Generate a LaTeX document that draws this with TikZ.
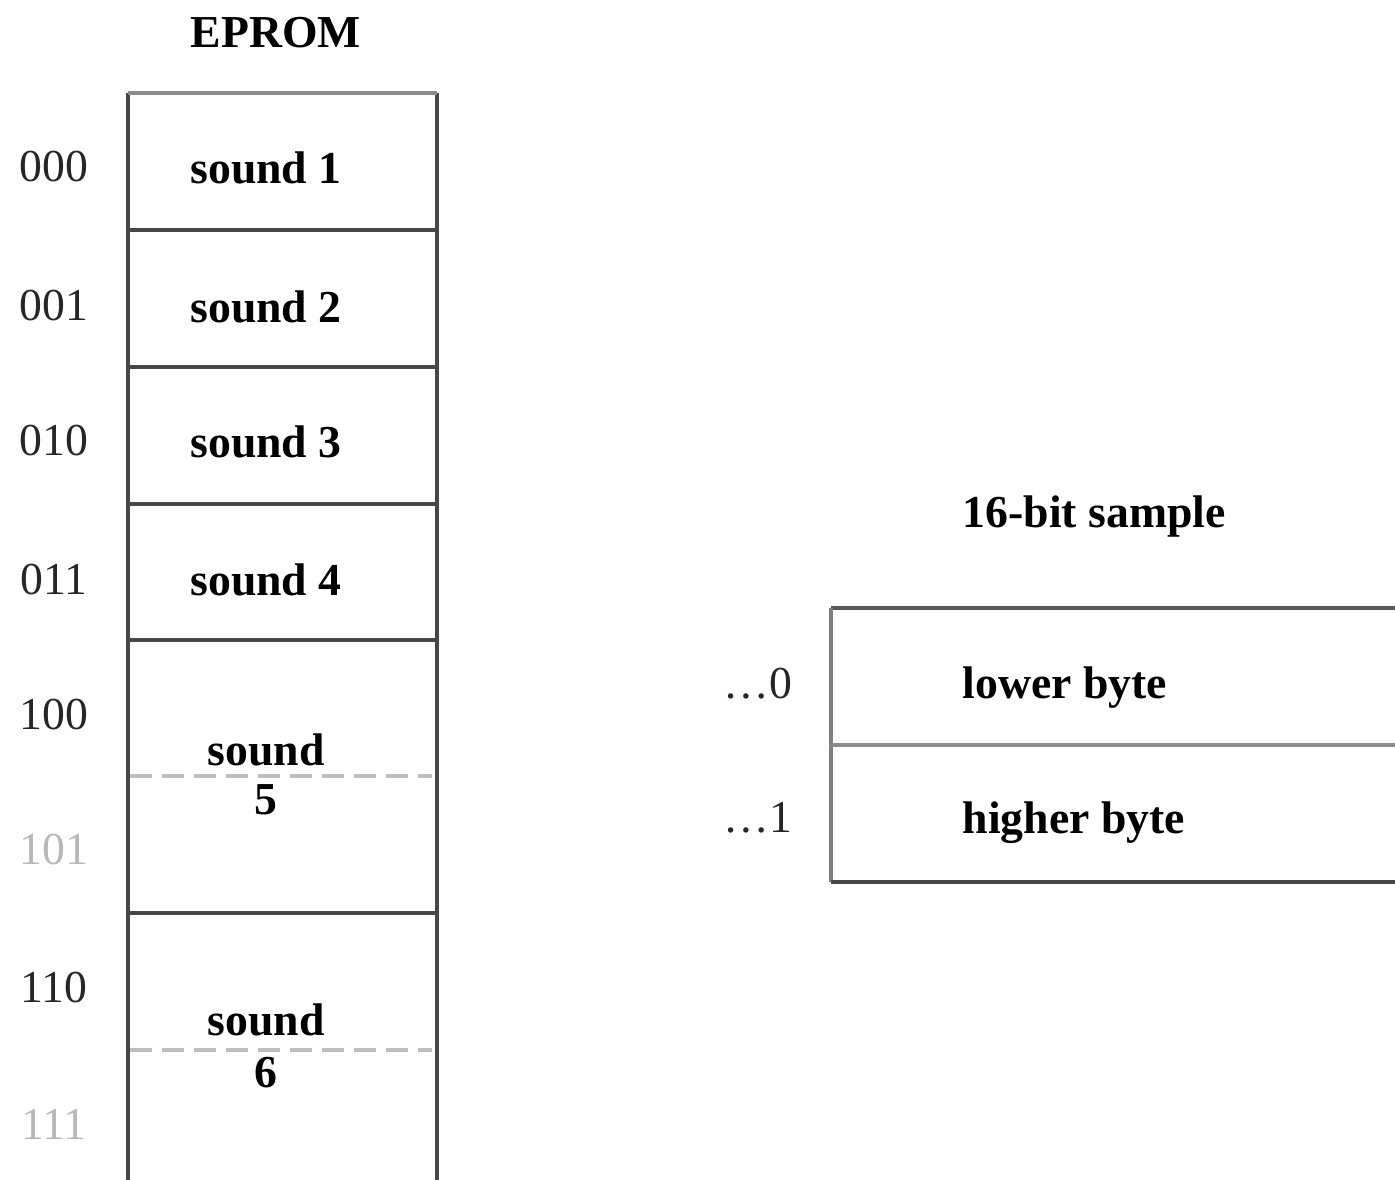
\documentclass[tikz,border=0pt]{standalone}
\usepackage{fontspec}
\setmainfont{Liberation Serif}
\begin{document}
\begin{tikzpicture}[x=0.01cm,y=-0.01cm,
  cellline/.style={draw=black!72,line width=1.05pt},
  topline/.style={draw=black!45,line width=1.05pt},
  sepline/.style={draw=black!25,line width=1.05pt,dash pattern=on 0.22cm off 0.1cm},
  lbl/.style={font=\fontsize{13}{15}\selectfont\bfseries,inner sep=0pt},
  addr/.style={font=\fontsize{13}{15}\selectfont,inner sep=0pt,text=black!85},
  addrlight/.style={addr,text=black!28}]
\useasboundingbox (0,0) rectangle (1395,1180);
\clip (0,0) rectangle (1395,1180);
% EPROM column
\coordinate (eTL) at (128,93);
\coordinate (eTR) at (437,93);
\coordinate (eBL) at (128,1190);
\coordinate (eBR) at (437,1190);
\draw[cellline] (eTL) -- (eBL);
\draw[cellline] (eTR) -- (eBR);
\draw[topline] (eTL) -- (eTR);
\foreach \yy [count=\i] in {230,367,504,640,913}{
  \coordinate (sL\i) at (128,\yy);
  \coordinate (sR\i) at (437,\yy);
  \draw[cellline] (sL\i) -- (sR\i);
}
\coordinate (d5L) at (130,776);
\coordinate (d5R) at (432,776);
\coordinate (d6L) at (130,1050);
\coordinate (d6R) at (432,1050);
\draw[sepline] (d5L) -- (d5R);
\draw[sepline] (d6L) -- (d6R);
% title
\node[lbl] (eprom) at (276,33) {EPROM};
% cell labels
\node[lbl] (s1) at (266,168) {sound 1};
\node[lbl] (s2) at (266,307) {sound 2};
\node[lbl] (s3) at (266,442) {sound 3};
\node[lbl] (s4) at (266,580) {sound 4};
\node[lbl] (s5a) at (266,750) {sound};
\node[lbl] (s5b) at (266,800) {5};
\node[lbl] (s6a) at (266,1020) {sound};
\node[lbl] (s6b) at (266,1073) {6};
% addresses
\node[addr] (a000) at (54,167) {000};
\node[addr] (a001) at (54,306) {001};
\node[addr] (a010) at (54,441) {010};
\node[addr] (a011) at (54,580) {011};
\node[addr] (a100) at (54,715) {100};
\node[addrlight] (a101) at (54,850) {101};
\node[addr] (a110) at (54,988) {110};
\node[addrlight] (a111) at (54,1124) {111};
% sample box
\coordinate (bTL) at (831,608);
\coordinate (bTR) at (1400,608);
\coordinate (bML) at (831,745);
\coordinate (bMR) at (1400,745);
\coordinate (bBL) at (831,882);
\coordinate (bBR) at (1400,882);
\draw[cellline,draw=black!65] (bTL) -- (bTR);
\draw[cellline,draw=black!50] (bTL) -- (bBL);
\draw[cellline,draw=black!45] (bML) -- (bMR);
\draw[cellline] (bBL) -- (bBR);
\node[lbl,anchor=west] (sample) at (962,517) {16-bit sample};
\node[lbl,anchor=west] (lower) at (962,688) {lower byte};
\node[lbl,anchor=west] (higher) at (962,823) {higher byte};
\node[addr,anchor=east] (e0) at (793,684) {…0};
\node[addr,anchor=east] (e1) at (793,818) {…1};
\end{tikzpicture}
\end{document}
